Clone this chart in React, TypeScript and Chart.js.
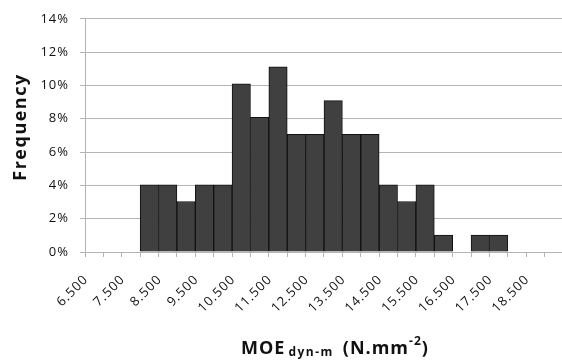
import React, { useEffect, useRef } from "react";
import { Chart, registerables } from "chart.js";

Chart.register(...registerables);

// Bin labels (MOE dyn-m, N.mm-2), one per histogram bin
const binLabels = [
  "6.500", "7.000", "7.500", "8.000", "8.500", "9.000", "9.500", "10.000",
  "10.500", "11.000", "11.500", "12.000", "12.500", "13.000", "13.500", "14.000",
  "14.500", "15.000", "15.500", "16.000", "16.500", "17.000", "17.500", "18.000",
  "18.500", "19.000",
];

// Relative frequency (%) per bin
const frequencyPct = [
  0, 0, 0, 4.04, 4.04, 3.03, 4.04, 4.04, 10.1, 8.08, 11.11, 7.07, 7.07,
  9.09, 7.07, 7.07, 4.04, 3.03, 4.04, 1.01, 0, 1.01, 1.01, 0, 0, 0,
];

const yMin = 0;
const yMax = 14;
const yStep = 2;

const yTitle = "Frequency";
const xTitleMain = "MOE";
const xTitleSub = "dyn-m";
const xTitleUnit = "(N.mm";
const xTitleSup = "-2";
const xTitleEnd = ")";

const FONT = '"Open Sans", "DejaVu Sans", sans-serif';
const GRID = "#b4b4b4";
const TEXT = "#111111";

const titlesPlugin = {
  id: "titlesPlugin",
  beforeDraw(chart: any) {
    chart.ctx.letterSpacing = "1px";
  },
  afterDraw(chart: any) {
    const ctx = chart.ctx as CanvasRenderingContext2D;
    ctx.save();
    ctx.fillStyle = TEXT;
    // Y title
    ctx.save();
    (ctx as any).letterSpacing = "1.5px";
    ctx.font = `bold 18px ${FONT}`;
    ctx.translate(21, 127);
    ctx.rotate(-Math.PI / 2);
    ctx.textAlign = "center";
    ctx.textBaseline = "middle";
    ctx.fillText(yTitle, 0, 0);
    ctx.restore();

    // X title with subscript / superscript
    ctx.textAlign = "left";
    ctx.textBaseline = "alphabetic";
    (ctx as any).letterSpacing = "1px";
    let x = 241;
    const base = 354;
    ctx.font = `bold 18px ${FONT}`;
    ctx.fillText(xTitleMain, x, base);
    x += ctx.measureText(xTitleMain).width + 3;
    ctx.font = `bold 12px ${FONT}`;
    (ctx as any).letterSpacing = "1.5px";
    ctx.fillText(xTitleSub, x, base + 2);
    x += ctx.measureText(xTitleSub).width + 9;
    (ctx as any).letterSpacing = "1px";
    ctx.font = `bold 18px ${FONT}`;
    ctx.fillText(xTitleUnit, x, base);
    x += ctx.measureText(xTitleUnit).width;
    ctx.font = `bold 12px ${FONT}`;
    ctx.fillText(xTitleSup, x, base - 9);
    x += ctx.measureText(xTitleSup).width;
    ctx.font = `bold 18px ${FONT}`;
    ctx.fillText(xTitleEnd, x, base);
    ctx.restore();
  },
};

export default function App() {
  const ref = useRef<HTMLCanvasElement | null>(null);
  useEffect(() => {
    if (!ref.current) return;
    const chart = new Chart(ref.current, {
      type: "bar",
      data: {
        labels: binLabels,
        datasets: [
          {
            data: frequencyPct,
            backgroundColor: "#404040",
            borderColor: "#111111",
            borderWidth: 1,
            barPercentage: 1,
            categoryPercentage: 1,
          },
        ],
      },
      options: {
        responsive: false,
        animation: false,
        devicePixelRatio: 1,
        layout: { padding: { top: 15, right: 9, left: 0, bottom: 0 } },
        plugins: {
          legend: { display: false },
          tooltip: { enabled: false },
          title: { display: false },
        },
        scales: {
          x: {
            type: "category",
            offset: true,
            afterFit(scale: any) {
              scale.height = 112;
            },
            grid: {
              display: true,
              offset: true,
              drawOnChartArea: false,
              drawTicks: true,
              tickLength: 5,
              color: GRID,
            },
            border: { color: GRID, width: 1 },
            ticks: {
              autoSkip: false,
              minRotation: 45,
              maxRotation: 45,
              labelOffset: -8,
              padding: 15,
              color: TEXT,
              font: { family: FONT, size: 13 },
              callback: (_v: any, i: number) => (i % 2 === 0 ? binLabels[i] : ""),
            },
          },
          y: {
            min: yMin,
            max: yMax,
            afterFit(scale: any) {
              scale.width = 85;
            },
            grid: { color: GRID, tickLength: 5, drawTicks: true },
            border: { color: GRID, width: 1 },
            ticks: {
              stepSize: yStep,
              padding: 11,
              color: TEXT,
              font: { family: FONT, size: 13 },
              callback: (v: any) => `${v}%`,
            },
          },
        },
      },
      plugins: [titlesPlugin],
    });
    return () => chart.destroy();
  }, []);

  return (
    <div
      style={{
        position: "fixed",
        left: 0,
        top: 0,
        width: 562,
        height: 364,
        overflow: "hidden",
        background: "#fff",
      }}
    >
      <canvas ref={ref} width={580} height={364} style={{ display: "block" }} />
    </div>
  );
}
